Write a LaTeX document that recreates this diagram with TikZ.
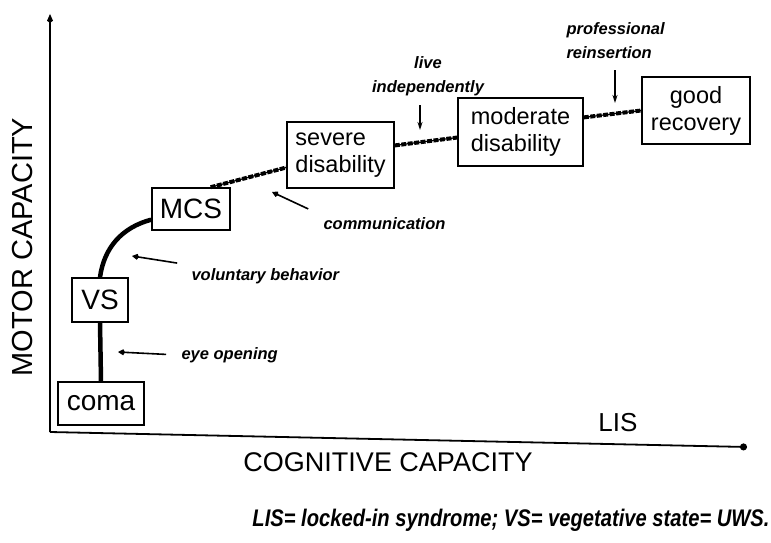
\documentclass[tikz,border=0pt]{standalone}
\usepackage{fontspec}
\setmainfont{Liberation Sans}
\usetikzlibrary{arrows.meta,positioning,calc}

\tikzset{
  stage/.style={draw, line width=1.6pt, inner sep=2pt, font=\fontsize{23.5}{27}\selectfont},
  bigstage/.style={stage, font=\fontsize{28}{30}\selectfont},
  axislabel/.style={font=\fontsize{#1}{#1}\selectfont},
  note/.style={font=\fontsize{16.5}{24}\selectfont\bfseries\itshape},
  pointer/.style={-{Kite[length=7pt,width=6pt]}, line width=1.6pt},
  downpointer/.style={-{Stealth[length=8pt,width=5pt]}, line width=1.4pt},
  link/.style={line width=4.5pt},
  weaklink/.style={line width=4pt, dash pattern=on 5pt off 1.5pt}
}

\begin{document}
\begin{tikzpicture}[x=1pt, y=1pt]
\useasboundingbox (0,0) rectangle (771,-543);
% Axes
\coordinate (origin) at (50,-432);
\coordinate (ytop) at (50,-14);
\coordinate (xend) at (747,-447);
\draw[line width=2.2pt, -{Kite[length=9pt,width=6pt]}] (origin) -- (ytop);
\draw[line width=1.8pt, -{Circle[length=7pt]}] (origin) -- (xend);
\node[axislabel=29, rotate=90] (ylab) at (23,-247) {MOTOR CAPACITY};
\node[axislabel=27] (xlab) at (388,-462) {COGNITIVE CAPACITY};
\node[axislabel=26] (lis) at (618,-422.5) {LIS};
% Stages
\node[bigstage, minimum width=86pt, minimum height=43pt] (coma) at (101,-403.5) {coma};
\node[bigstage, minimum width=56pt, minimum height=44pt] (vs) at (100,-300) {VS};
\node[bigstage, minimum width=78pt, minimum height=42pt] (mcs) at (191,-209) {MCS};
\node[stage, align=left, minimum width=107pt, minimum height=66pt] (severe) at (340.5,-155) {severe\\disability};
\node[stage, align=left, minimum width=125pt, minimum height=68pt] (moderate) at (520.5,-132) {moderate\\disability};
\node[stage, align=center, minimum width=108pt, minimum height=67pt] (good) at (696,-110.5) {good\\recovery};
% Connectors
\draw[link] (coma.north) -- (vs.south);
\draw[link] (vs.north) to[out=82, in=195] (mcs.195);
\draw[line width=1.2pt] (mcs.48) -- (severe.193);
\draw[weaklink] (mcs.48) -- (severe.193);
\draw[line width=1.2pt] (severe.10) -- (moderate.185);
\draw[weaklink] (severe.10) -- (moderate.185);
\draw[line width=1.2pt] (moderate.13) -- (good.west);
\draw[weaklink] (moderate.13) -- (good.west);
% Notes
\node[note, anchor=west] (eye) at (178,-355) {eye opening};
\coordinate (eyetip) at (118,-352);
\draw[pointer, shorten <=12pt] (eye.west) -- (eyetip);
\node[note, anchor=west] (vol) at (188,-276) {voluntary behavior};
\coordinate (voltip) at (132,-256);
\draw[pointer, shorten <=11pt] (vol.north west) -- (voltip);
\node[note, anchor=west] (comm) at (320,-224) {communication};
\coordinate (commtip) at (272,-192);
\draw[pointer, shorten <=13pt] (comm.north west) -- (commtip);
\node[note, align=center] (live) at (428,-76) {live\\independently};
\coordinate (livetip) at (420,-130);
\draw[downpointer, shorten <=6pt] (live.south -| livetip) -- (livetip);
\node[note, align=left, anchor=north west] (prof) at (563,-19) {professional\\reinsertion};
\coordinate (proftip) at (615,-103);
\draw[downpointer, shorten <=8pt] (prof.south -| proftip) -- (proftip);
% Legend
\node[font=\fontsize{24}{24}\selectfont\bfseries\itshape] (legend) at (511,-520)
  {\scalebox{0.84}[1]{LIS= locked-in syndrome; VS= vegetative state= UWS.}};
\end{tikzpicture}
\end{document}
